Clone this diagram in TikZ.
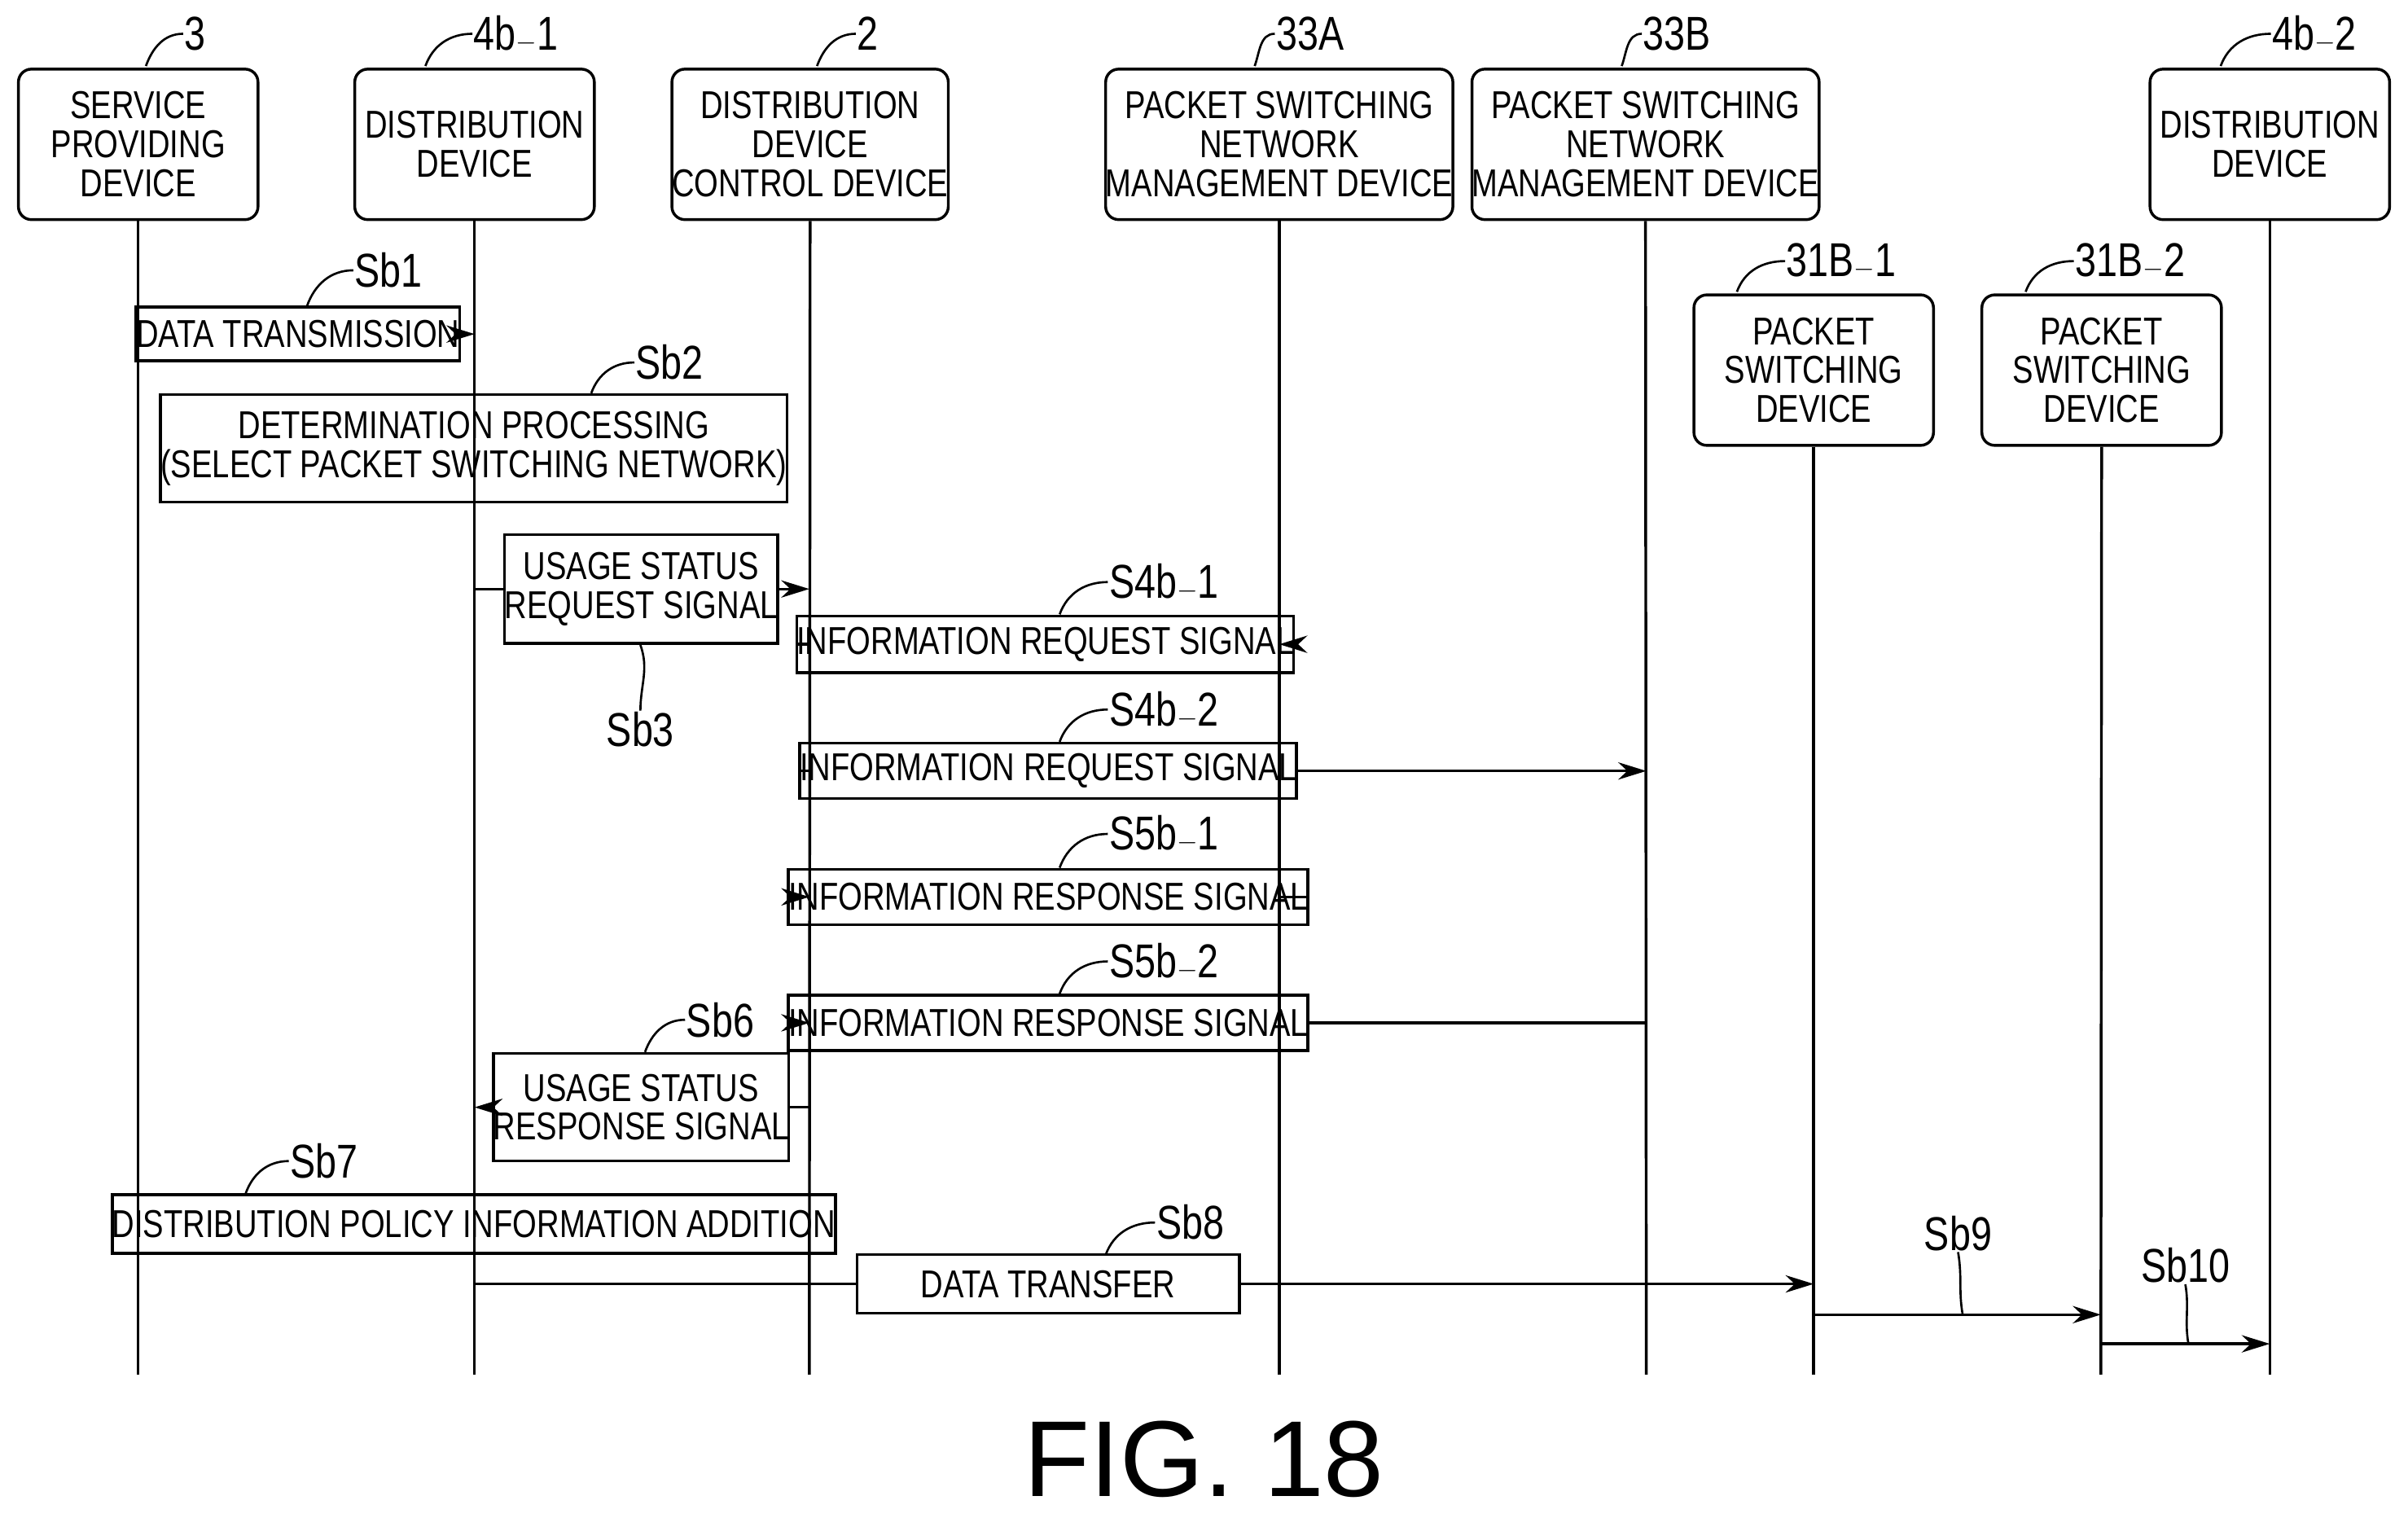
\documentclass[tikz,border=0pt]{standalone}
\usepackage{fontspec}
\setmainfont{Liberation Sans}
\newfontfamily\nar[FakeStretch=0.8]{Liberation Sans}
\usetikzlibrary{arrows.meta}
\begin{document}
\begin{tikzpicture}[x=0.05cm,y=-0.05cm,line width=2.6pt,
  every node/.style={font=\nar\fontsize{36}{36}\selectfont,align=center,inner sep=0pt},
  hdr/.style={draw,rounded corners=12pt,minimum width=7.8cm,minimum height=4.9cm},
  box/.style={draw,minimum height=1.8cm},
  lbl/.style={font=\nar\fontsize{44}{44}\selectfont},
  arr/.style={-{Stealth[length=26pt,width=16pt]}}]
\useasboundingbox (0,0) rectangle (1568,988);
% headers
\node[hdr] (h3) at (90,94) {SERVICE\\PROVIDING\\DEVICE};
\node[hdr] (h41) at (309,94) {DISTRIBUTION\\DEVICE};
\node[hdr] (h2) at (527.5,94) {DISTRIBUTION\\DEVICE\\CONTROL DEVICE};
\node[hdr,minimum width=10.5cm] (hA) at (833,94) {PACKET SWITCHING\\NETWORK\\MANAGEMENT DEVICE};
\node[hdr,minimum width=10.5cm] (hB) at (1071.5,94) {PACKET SWITCHING\\NETWORK\\MANAGEMENT DEVICE};
\node[hdr] (h42) at (1478,94) {DISTRIBUTION\\DEVICE};
\node[hdr] (p1) at (1181,241) {PACKET\\SWITCHING\\DEVICE};
\node[hdr] (p2) at (1368.5,241) {PACKET\\SWITCHING\\DEVICE};
% header labels
\node[lbl] (l3) at (127,22) {3};
\node[lbl] (l41) at (336,22) {4b$-$1};
\node[lbl] (l2) at (565,22) {2};
\node[lbl] (lA) at (853,22) {33A};
\node[lbl] (lB) at (1092,22) {33B};
\node[lbl] (l42) at (1507,22) {4b$-$2};
\node[lbl] (lp1) at (1199,170) {31B$-$1};
\node[lbl] (lp2) at (1387,170) {31B$-$2};
\foreach \n/\x in {l3/95,l41/277,l2/532,lA/817,lB/1056,l42/1446,lp1/1131,lp2/1319}{
  \draw[line width=2pt] (\x,44) ++(0,0) coordinate (tmp);}
\draw[line width=2pt] (95,43) to[out=70,in=180] (l3.west);
\draw[line width=2pt] (277,43) to[out=70,in=180] (l41.west);
\draw[line width=2pt] (532,43) to[out=70,in=180] (l2.west);
\draw[line width=2pt] (817,43) to[out=70,in=180] (lA.west);
\draw[line width=2pt] (1056,43) to[out=70,in=180] (lB.west);
\draw[line width=2pt] (1446,43) to[out=70,in=180] (l42.west);
\draw[line width=2pt] (1131,190) to[out=70,in=180] (lp1.west);
\draw[line width=2pt] (1319,190) to[out=70,in=180] (lp2.west);
% lifelines
\foreach \n/\x in {h3/90,h41/309,h2/527,hA/833,hB/1072,p1/1181,p2/1368,h42/1478}{
  \coordinate (e\n) at (\x,895);
  \draw (\n.south) -- (e\n);}
% Sb1
\node[box,minimum width=8.4cm,minimum height=1.75cm] (b1) at (194,217.5) {DATA TRANSMISSION};
\draw (90,217.5) -- (b1.west);
\draw[arr] (b1.east) -- (309,217.5);
\node[lbl] (s1) at (253,176) {Sb1};
\draw[line width=2pt] (200,199) to[out=70,in=180] (s1.west);
% Sb2
\node[box,minimum width=15.55cm,minimum height=3.5cm] (b2) at (308.5,292) {DETERMINATION PROCESSING\\(SELECT PACKET SWITCHING NETWORK)};
\node[lbl] (s2) at (436,236) {Sb2};
\draw[line width=2pt] (385,256) to[out=70,in=180] (s2.west);
% Sb3
\node[box,minimum width=7.85cm,minimum height=3.55cm] (b3) at (417.5,383.5) {USAGE STATUS\\REQUEST SIGNAL};
\draw (309,383.5) -- (b3.west);
\draw[arr] (b3.east) -- (527,383.5);
\node[lbl] (s3) at (417,475) {Sb3};
\draw[line width=2pt] (417,420) to[out=-70,in=90] (s3.north);
% S4b-1
\node[box,minimum width=12.25cm,minimum height=1.85cm] (b41) at (680.5,419.5) {INFORMATION REQUEST SIGNAL};
\draw (527,419.5) -- (b41.west);
\draw[arr] (b41.east) -- (833,419.5);
\node[lbl] (s41) at (758,379) {S4b$-$1};
\draw[line width=2pt] (690,400) to[out=70,in=180] (s41.west);
% S4b-2
\node[box,minimum width=12.45cm] (b42) at (682.5,502) {INFORMATION REQUEST SIGNAL};
\draw (527,502) -- (b42.west);
\draw[arr] (b42.east) -- (1072,502);
\node[lbl] (s42) at (758,462) {S4b$-$2};
\draw[line width=2pt] (690,483) to[out=70,in=180] (s42.west);
% S5b-1
\node[box,minimum width=12.45cm] (b51) at (682.5,584) {INFORMATION RESPONSE SIGNAL};
\draw (833,584) -- (b51.east);
\draw[arr] (b51.west) -- (527,584);
\node[lbl] (s51) at (758,543) {S5b$-$1};
\draw[line width=2pt] (690,565) to[out=70,in=180] (s51.west);
% S5b-2
\node[box,minimum width=12.45cm] (b52) at (682.5,666) {INFORMATION RESPONSE SIGNAL};
\draw (1072,666) -- (b52.east);
\draw[arr] (b52.west) -- (527,666);
\node[lbl] (s52) at (758,626) {S5b$-$2};
\draw[line width=2pt] (690,647) to[out=70,in=180] (s52.west);
% Sb6
\node[box,minimum width=7.85cm,minimum height=3.5cm] (b6) at (417.5,721) {USAGE STATUS\\RESPONSE SIGNAL};
\draw (527,721) -- (b6.east);
\draw[arr] (b6.west) -- (309,721);
\node[lbl] (s6) at (469,664) {Sb6};
\draw[line width=2pt] (420,685) to[out=70,in=180] (s6.west);
% Sb7
\node[box,minimum width=17.35cm,minimum height=1.9cm] (b7) at (308.5,797) {DISTRIBUTION POLICY INFORMATION ADDITION};
\node[lbl] (s7) at (211,756) {Sb7};
\draw[line width=2pt] (160,777) to[out=70,in=180] (s7.west);
% Sb8
\node[box,minimum width=12.45cm,minimum height=1.9cm] (b8) at (682.5,836) {DATA TRANSFER};
\draw (309,836) -- (b8.west);
\draw[arr] (b8.east) -- (1181,836);
\node[lbl] (s8) at (775,796) {Sb8};
\draw[line width=2pt] (720,817) to[out=70,in=180] (s8.west);
% Sb9
\draw[arr] (1181,856) -- (1368,856);
\node[lbl] (s9) at (1275,803) {Sb9};
\draw[line width=2pt] (s9.south) to[out=-80,in=100] (1278,856);
% Sb10
\draw[arr] (1368,875) -- (1478,875);
\node[lbl] (s10) at (1423,824) {Sb10};
\draw[line width=2pt] (s10.south) to[out=-80,in=100] (1425,875);
% title
\node[font=\fontsize{100}{100}\selectfont] (fig) at (784,950) {FIG. 18};
\end{tikzpicture}
\end{document}
